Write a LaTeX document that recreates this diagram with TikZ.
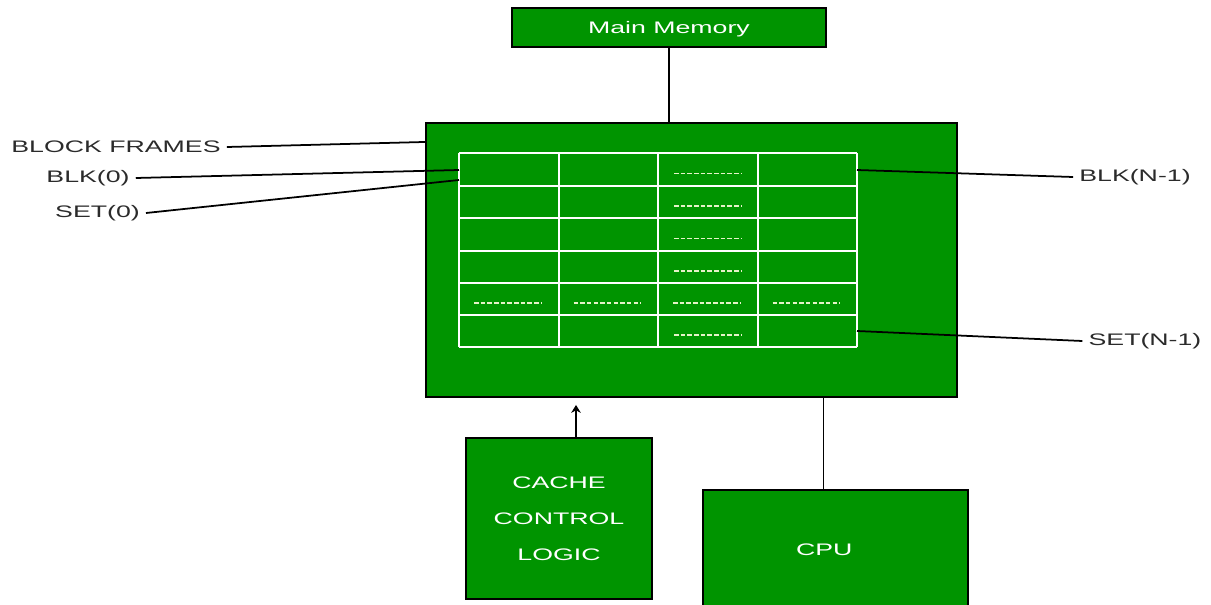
\documentclass[tikz,border=0pt]{standalone}
\usepackage{fontspec}
\usepackage{tikz}
\usetikzlibrary{arrows.meta,calc,positioning}
\newfontfamily\diagfont{Liberation Sans}[FakeStretch=1.6]
\definecolor{cachegreen}{HTML}{009400}
\definecolor{labelgray}{HTML}{2B2B2B}
\definecolor{dashpale}{HTML}{E6F2C8}
\tikzset{every node/.append style={font=\diagfont\fontsize{9.5}{11}\selectfont}}
\tikzset{
  unitbox/.style={draw=black,line width=1.2pt,fill=cachegreen,inner sep=0pt,text=white},
  sidelabel/.style={text=labelgray},
  pointer/.style={black,line width=1pt},
  gridline/.style={white,line width=1.1pt},
  celldash/.style={dashpale,line width=0.9pt,dash pattern=on 2.6pt off 1.2pt},
}

\begin{document}
\begin{tikzpicture}[x=0.02cm,y=-0.02cm,>={Stealth[length=4.5pt,width=5.5pt]}]
  \clip (0,0) rectangle (1211,605);
  \fill[white] (0,0) rectangle (1211,605);
  % blocks
  \node[unitbox,minimum width=6.28cm,minimum height=0.78cm,text depth=0pt] (mem) at (669,27.5) {Main Memory};
  \node[unitbox,minimum width=10.62cm,minimum height=5.48cm] (cache) at (691.5,260) {};
  \node[unitbox,minimum width=3.72cm,minimum height=3.22cm,align=center,
    font=\diagfont\fontsize{9.5}{20.5}\selectfont] (ctrl) at (559,518.5) {CACHE\\CONTROL\\LOGIC};
  \node[unitbox,minimum width=5.3cm,minimum height=2.4cm] (cpu) at (835.5,550) {CPU\hspace*{0.45cm}};
  % block frames grid
  \foreach \x in {459,559,658,758,857}
    \draw[gridline] (\x,153) -- (\x,347);
  \foreach \y in {153,186,218,251,283,315,347}
    \draw[gridline] (459,\y) -- (857,\y);
  \foreach \y in {169.5,202,234.5,267,331}
    \draw[celldash] (674,\y+4) -- (741,\y+4);
  \foreach \x in {509,608.5,708,807.5}
    \draw[celldash] (\x-35,303) -- (\x+32,303);
  \coordinate (frame-pt) at ($(cache.north west)+(0,20)$);
  \coordinate (blk0-pt) at (459,170);
  \coordinate (set0-pt) at (459,180);
  \coordinate (blkn-pt) at (857,170);
  \coordinate (setn-pt) at (857,331);
  % labels
  \node[sidelabel] (frames) at (116,147) {BLOCK FRAMES};
  \node[sidelabel] (blk0) at (88,178) {BLK(0)};
  \node[sidelabel] (set0) at (97.5,213) {SET(0)};
  \node[sidelabel] (blkn) at (1135,177) {BLK(N-1)};
  \node[sidelabel] (setn) at (1145,341) {SET(N-1)};
  \draw[pointer] (frames.east) -- (frame-pt);
  \draw[pointer] (blk0.east) -- (blk0-pt);
  \draw[pointer] (set0.east) -- (set0-pt);
  \draw[pointer] (blkn-pt) -- (blkn.west);
  \draw[pointer] (setn-pt) -- (setn.west);
  % links
  \draw[pointer] (mem.south) -- (mem.south |- cache.north);
  \draw[pointer] (cpu.north) ++(-12,0) coordinate (cpu-top) -- (cpu-top |- cache.south);
  \draw[pointer,->] (ctrl.north) ++(17,0) coordinate (ctrl-top) -- ++(0,-32) coordinate (ctrl-tip);
\end{tikzpicture}
\end{document}
